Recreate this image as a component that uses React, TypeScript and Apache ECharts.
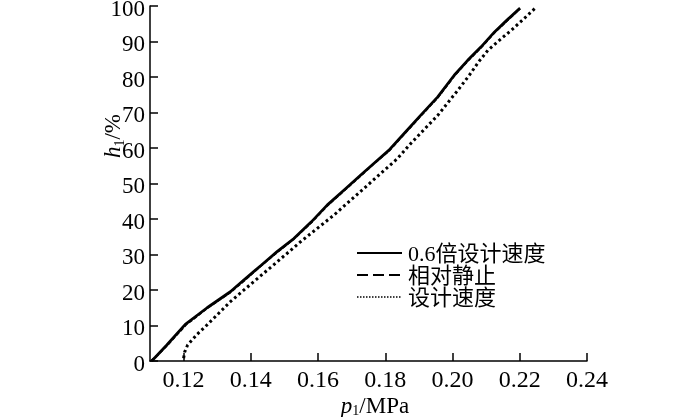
import React, { useEffect, useRef } from "react";
import * as echarts from "echarts";

// 0.6倍设计速度 (solid)
const pSolid = [0.1105, 0.112, 0.115, 0.1205, 0.127, 0.1339, 0.1379, 0.143, 0.1478, 0.1528, 0.158, 0.1627, 0.168, 0.1727, 0.177, 0.1811, 0.1856, 0.1905, 0.1956, 0.2005, 0.2045, 0.2085, 0.2125, 0.2165, 0.2201];
const hSolid = [0, 1.5, 4.5, 10.3, 15.0, 19.5, 22.8, 26.9, 30.8, 34.5, 39.2, 43.9, 48.4, 52.4, 56.0, 59.4, 64.1, 69.2, 74.4, 80.5, 84.7, 88.5, 92.7, 96.3, 99.4];

// 相对静止 (dashed)
const pDashed = [0.1103, 0.1122, 0.1152, 0.1207, 0.1272, 0.134, 0.1381, 0.1431, 0.1479, 0.1529, 0.1581, 0.1628, 0.1681, 0.1728, 0.1771, 0.1812, 0.1857, 0.1906, 0.1957, 0.2006, 0.2046, 0.2086, 0.2126, 0.2166, 0.22];
const hDashed = [0, 1.6, 4.5, 10.2, 15.0, 19.4, 22.7, 26.9, 30.7, 34.5, 39.1, 43.8, 48.3, 52.3, 56.0, 59.3, 64.0, 69.1, 74.3, 80.4, 84.6, 88.4, 92.6, 96.2, 99.2];

// 设计速度 (dotted)
const pDotted = [0.12, 0.1203, 0.1212, 0.124, 0.1269, 0.1339, 0.1408, 0.1478, 0.1548, 0.1647, 0.1747, 0.18, 0.1836, 0.1876, 0.1956, 0.2016, 0.205, 0.2077, 0.2105, 0.214, 0.2175, 0.221, 0.2247];
const hDotted = [0.8, 2.5, 4.5, 7.5, 10.1, 16.7, 22.3, 27.9, 33.6, 41.1, 49.5, 54.0, 57.0, 61.3, 69.2, 76.3, 80.5, 84.2, 87.5, 90.4, 93.2, 96.2, 99.5];

const xTicks = [0.12, 0.14, 0.16, 0.18, 0.2, 0.22, 0.24];
const seriesNames = ["0.6倍设计速度", "相对静止", "设计速度"];

const zip = (a: number[], b: number[]) => a.map((v, i) => [v, b[i]]);

const SERIF = '"Liberation Serif", "Times New Roman", serif';
const CJK = '"Liberation Serif", "Noto Sans CJK SC", serif';

export default function App() {
  const ref = useRef<HTMLDivElement>(null);
  useEffect(() => {
    if (!ref.current) return;
    const chart = echarts.init(ref.current, undefined, { renderer: "svg" });
    const legendY = [253, 275, 297];
    const legendDash: any[] = [null, [11, 5], [1.5, 1.5]];
    const legendWidth = [2.2, 2, 1.5];
    const legendItems: any[] = [];
    seriesNames.forEach((name, i) => {
      legendItems.push({
        type: "line",
        shape: { x1: 357, y1: legendY[i], x2: 402, y2: legendY[i] },
        style: { stroke: "#000", lineWidth: legendWidth[i], lineDash: legendDash[i] },
      });
      legendItems.push({
        type: "text",
        x: 408,
        y: legendY[i],
        style: {
          text: name,
          font: `22px ${CJK}`,
          lineHeight: 20,
          fill: "#000",
          verticalAlign: "middle",
          align: "left",
        },
      });
    });
    chart.setOption({
      animation: false,
      grid: { left: 150, right: 113, top: 6, bottom: 56, containLabel: false, outerBoundsMode: "none" },
      xAxis: {
        type: "value",
        min: 0.11,
        max: 0.24,
        splitLine: { show: false },
        axisLine: { lineStyle: { color: "#000", width: 1.5 } },
        axisTick: { inside: true, length: 8, customValues: xTicks, lineStyle: { color: "#000", width: 1.5 } },
        axisLabel: {
          customValues: xTicks,
          formatter: (v: number) => v.toFixed(2),
          color: "#000",
          fontSize: 24,
          fontFamily: SERIF,
          margin: 7,
          lineHeight: 22,
        },
      },
      yAxis: {
        type: "value",
        min: 0,
        max: 100,
        interval: 10,
        splitLine: { show: false },
        axisLine: { show: true, lineStyle: { color: "#000", width: 1.5 } },
        axisTick: { show: true, inside: true, length: 8, lineStyle: { color: "#000", width: 1.5 } },
        axisLabel: {
          color: "#000",
          fontSize: 23,
          fontFamily: SERIF,
          margin: 5,
          verticalAlign: "top",
          lineHeight: 4,
        },
      },
      graphic: [
        {
          type: "text",
          x: 375,
          y: 405,
          style: {
            text: "{i|p}{s|1}{n|/MPa}",
            align: "center",
            verticalAlign: "middle",
            rich: {
              i: { font: `italic 23px ${SERIF}`, fill: "#000", lineHeight: 24, verticalAlign: "middle" },
              s: { font: `14px ${SERIF}`, fill: "#000", lineHeight: 24, verticalAlign: "bottom" },
              n: { font: `23px ${SERIF}`, fill: "#000", lineHeight: 24, verticalAlign: "middle" },
            },
          },
        },
        {
          type: "text",
          x: 112,
          y: 136,
          rotation: Math.PI / 2,
          style: {
            text: "{i|h}{s|1}{n|/%}",
            align: "center",
            verticalAlign: "middle",
            rich: {
              i: { font: `italic 23px ${SERIF}`, fill: "#000", lineHeight: 28, verticalAlign: "middle" },
              s: { font: `14px ${SERIF}`, fill: "#000", lineHeight: 28, verticalAlign: "bottom" },
              n: { font: `23px ${SERIF}`, fill: "#000", lineHeight: 28, verticalAlign: "middle" },
            },
          },
        },
        ...legendItems,
      ],
      series: [
        {
          name: seriesNames[1],
          type: "line",
          data: zip(pDashed, hDashed),
          symbol: "none",
          lineStyle: { color: "#000", width: 2, type: [4, 2] },
        },
        {
          name: seriesNames[0],
          type: "line",
          data: zip(pSolid, hSolid),
          symbol: "none",
          lineStyle: { color: "#000", width: 2.8 },
        },
        {
          name: seriesNames[2],
          type: "line",
          data: zip(pDotted, hDotted),
          symbol: "none",
          lineStyle: { color: "#000", width: 3, type: [2.7, 3] },
        },
      ],
    });
    return () => chart.dispose();
  }, []);
  return <div ref={ref} style={{ position: "fixed", left: 0, top: 0, width: 700, height: 417 }} />;
}
